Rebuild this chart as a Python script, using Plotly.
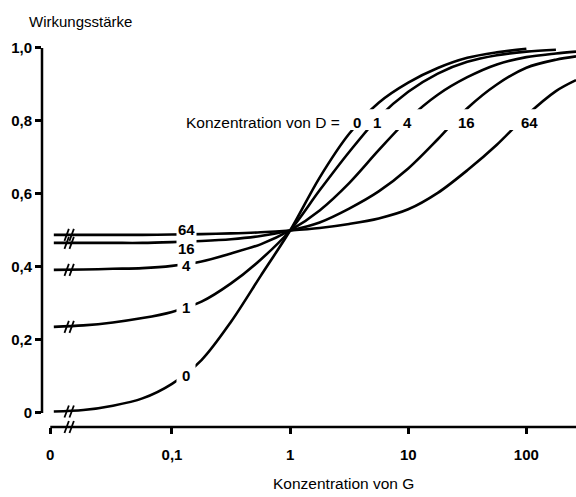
import plotly.graph_objects as go

# log10 of the G concentration at which the curves are sampled
log_g = [-2.0, -1.75, -1.5, -1.25, -1.0, -0.75, -0.5, -0.25, 0.0, 0.25, 0.5,
         0.75, 1.0, 1.25, 1.5, 1.75, 2.0, 2.25, 2.42]

# effect (Wirkungsstärke) for each concentration of D
d_labels = ["0", "1", "4", "16", "64"]
effect_d0 = [0.004, 0.008, 0.02, 0.04, 0.08, 0.145, 0.25, 0.375, 0.50, 0.645,
             0.765, 0.85, 0.905, 0.945, 0.973, 0.988, 0.998, None, None]
effect_d1 = [0.236, 0.24, 0.248, 0.26, 0.277, 0.305, 0.355, 0.42, 0.50, 0.61,
             0.715, 0.81, 0.88, 0.93, 0.962, 0.98, 0.99, 0.995, None]
effect_d4 = [0.392, 0.393, 0.395, 0.397, 0.403, 0.415, 0.437, 0.462, 0.50, 0.555,
             0.63, 0.72, 0.805, 0.872, 0.92, 0.955, 0.975, 0.985, 0.99]
effect_d16 = [0.466, 0.466, 0.466, 0.466, 0.468, 0.471, 0.476, 0.485, 0.50, 0.522,
              0.56, 0.607, 0.67, 0.75, 0.835, 0.90, 0.946, 0.968, 0.977]
effect_d64 = [0.488, 0.488, 0.488, 0.488, 0.489, 0.49, 0.492, 0.495, 0.50, 0.507,
              0.518, 0.533, 0.558, 0.603, 0.665, 0.735, 0.815, 0.882, 0.912]
effects = [effect_d0, effect_d1, effect_d4, effect_d16, effect_d64]

# axis ticks
x_tickvals = [-2.03, -1, 0, 1, 2]
x_ticktext = ["0", "0,1", "1", "10", "100"]
y_tickvals = [0, 0.2, 0.4, 0.6, 0.8, 1.0]
y_ticktext = ["0", "0,2", "0,4", "0,6", "0,8", "1,0"]

# where the curve labels sit: (x in log10 G, effect)
left_label_pos = [(-0.88, 0.104), (-0.88, 0.288), (-0.88, 0.403), (-0.88, 0.452), (-0.88, 0.504)]
left_label_pad = [5, 5, 4, 1, 1]
top_label_x = [0.567, 0.736, 0.99, 1.489, 2.03]
top_label_y = 0.795
break_x = -1.87

INK = "black"
FONT = "Liberation Sans, Arial, sans-serif"

fig = go.Figure()

for lab, ys in zip(d_labels, effects):
    fig.add_trace(go.Scatter(
        x=log_g, y=ys, mode="lines", name="D = " + lab,
        line=dict(color=INK, width=2.6, shape="spline", smoothing=0.9),
        hoverinfo="skip", showlegend=False,
    ))

shapes = []
# axis lines
shapes.append(dict(type="line", xref="paper", yref="y", x0=0, x1=0, y0=0, y1=1.0,
                   line=dict(color=INK, width=2.5)))
shapes.append(dict(type="line", xref="x", yref="paper", x0=x_tickvals[0], x1=2.42, y0=0, y1=0,
                   line=dict(color=INK, width=2.5)))
# white band that interrupts the curves where the upper labels sit
shapes.append(dict(type="rect", xref="x", yref="y", x0=0.47, x1=2.6, y0=0.775, y1=0.832,
                   fillcolor="white", line=dict(width=0), layer="above"))


def break_marks(yref, yanchor):
    marks = []
    for c in (-2.5, 2.5):
        marks.append(dict(type="line", xref="x", yref=yref,
                          xsizemode="pixel", ysizemode="pixel",
                          xanchor=break_x, yanchor=yanchor,
                          x0=c - 2.2, x1=c + 2.2, y0=-6, y1=6,
                          line=dict(color=INK, width=1.8), layer="above"))
    return marks


for ys in effects:
    shapes += break_marks("y", ys[0])
shapes += break_marks("paper", 0)

annotations = []
for lab, (lx, ly), pad in zip(d_labels, left_label_pos, left_label_pad):
    annotations.append(dict(x=lx, y=ly, xref="x", yref="y", text=lab, showarrow=False,
                            font=dict(family=FONT, size=15, color=INK, weight="bold"),
                            bgcolor="white", borderpad=pad))
for lab, lx in zip(d_labels, top_label_x):
    annotations.append(dict(x=lx, y=top_label_y, xref="x", yref="y", text=lab, showarrow=False,
                            font=dict(family=FONT, size=15, color=INK, weight="bold")))
annotations.append(dict(x=0.44, y=top_label_y, xref="x", yref="y", xanchor="right",
                        text="Konzentration von D =", showarrow=False,
                        font=dict(family=FONT, size=15.5, color=INK)))
annotations.append(dict(x=-0.028, y=1.049, xref="paper", yref="paper", xanchor="left",
                        yanchor="middle", text="Wirkungsstärke", showarrow=False,
                        font=dict(family=FONT, size=15, color=INK)))
annotations.append(dict(x=0.5637, y=-0.145, xref="paper", yref="paper", xanchor="center",
                        yanchor="middle", text="Konzentration von G", showarrow=False,
                        font=dict(family=FONT, size=15.5, color=INK)))

fig.update_layout(
    width=576, height=497,
    margin=dict(l=42, r=0, t=40, b=70),
    paper_bgcolor="white", plot_bgcolor="white",
    shapes=shapes, annotations=annotations,
    xaxis=dict(range=[-2.10, 2.42], showgrid=False, zeroline=False, showline=False,
               tickmode="array", tickvals=x_tickvals, ticktext=x_ticktext,
               ticks="outside", ticklen=6, tickwidth=2.5, tickcolor=INK,
               ticklabelstandoff=8,
               tickfont=dict(family=FONT, size=15, color=INK, weight="bold")),
    yaxis=dict(range=[-0.0384, 1.0219], showgrid=False, zeroline=False, showline=False,
               tickmode="array", tickvals=y_tickvals, ticktext=y_ticktext,
               ticks="outside", ticklen=6, tickwidth=2.5, tickcolor=INK,
               tickfont=dict(family=FONT, size=15, color=INK, weight="bold")),
)

fig.write_html("out.html")
